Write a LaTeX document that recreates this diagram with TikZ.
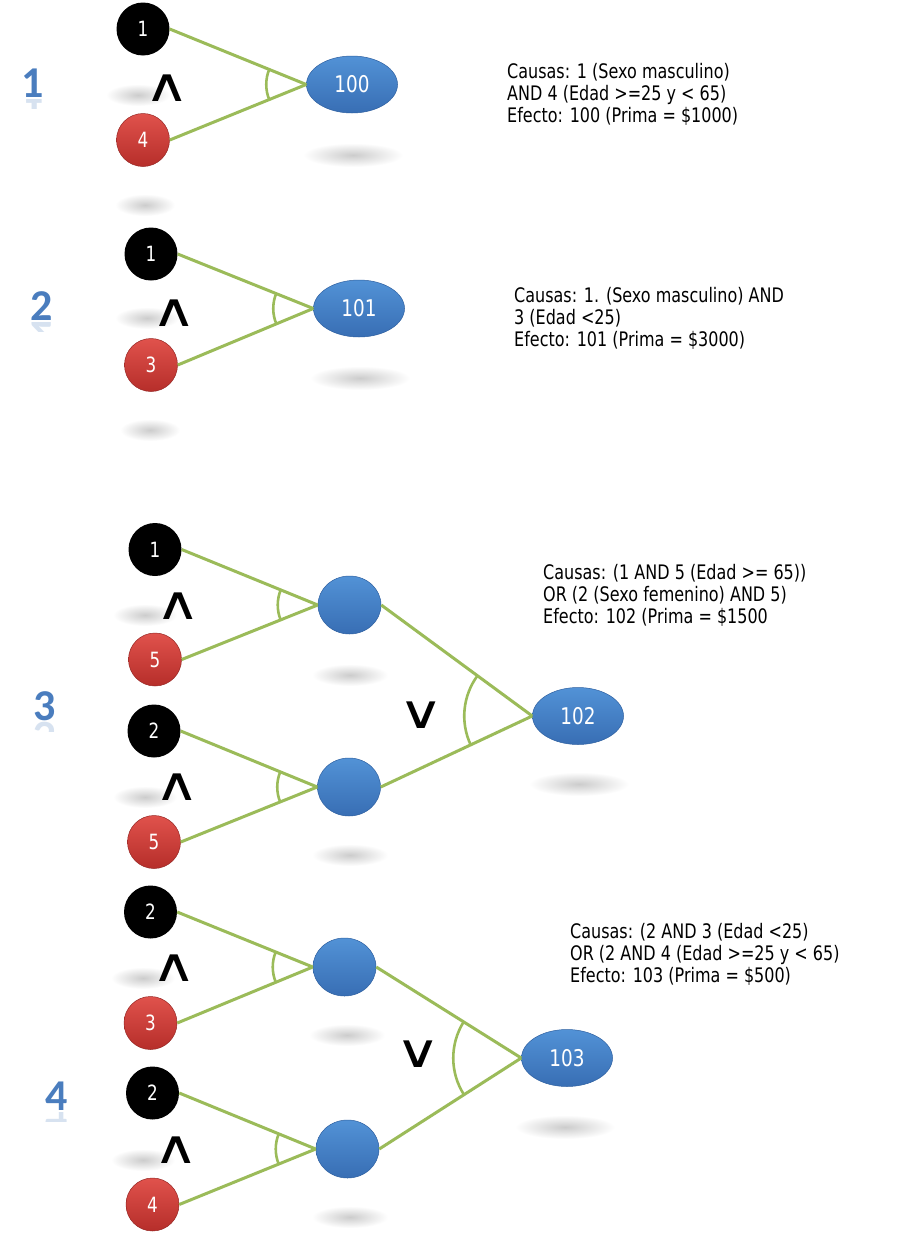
\documentclass[tikz,border=0pt]{standalone}
\usepackage{fontspec}
\setmainfont[FakeStretch=0.8]{DejaVu Sans}
\newfontfamily\bigfont{Carlito}
\newfontfamily\symfont{DejaVu Sans}
\usetikzlibrary{shapes.geometric,calc}
\definecolor{lgreen}{RGB}{155,187,89}
\definecolor{numblue}{RGB}{74,125,190}
\definecolor{redtop}{RGB}{224,82,76}
\definecolor{redbot}{RGB}{182,46,42}
\definecolor{redline}{RGB}{150,38,35}
\definecolor{bluetop}{RGB}{82,146,214}
\definecolor{bluebot}{RGB}{56,110,180}
\definecolor{blueline}{RGB}{45,95,160}
\tikzset{
  blackball/.style={circle, fill=black, minimum size=53pt, inner sep=0pt, text=white,
    font=\fontsize{21}{21}\selectfont},
  redball/.style={circle, top color=redtop, bottom color=redbot, draw=redline, line width=0.5pt,
    minimum size=53pt, inner sep=0pt, text=white, font=\fontsize{21}{21}\selectfont},
  blueball/.style={ellipse, top color=bluetop, bottom color=bluebot, draw=blueline, line width=0.5pt,
    minimum width=63pt, minimum height=58pt, inner sep=0pt},
  effect/.style={ellipse, top color=bluetop, bottom color=bluebot, draw=blueline, line width=0.5pt,
    minimum width=91pt, minimum height=57pt, inner sep=0pt, text=white, font=\fontsize{23}{23}\selectfont},
  conn/.style={draw=lgreen, line width=3pt},
  arcline/.style={draw=lgreen, line width=2.6pt},
  desc/.style={anchor=north west, inner sep=0pt, align=left, font=\fontsize{20}{22}\selectfont},
  gatesym/.style={inner sep=0pt, font=\symfont\fontsize{46}{46}\selectfont},
  bignum/.style={inner sep=0pt, text=numblue, font=\bigfont\bfseries\fontsize{44}{44}\selectfont},
}
\newcommand\wsym[1]{\scalebox{1.35}[1]{#1}}
\newcommand\gatearc[4]{%
  \draw[arcline] let \p1=($(#1.east)-(#3.west)$), \p2=($(#2.east)-(#3.west)$),
    \n1={atan2(\y1,\x1)}, \n2={atan2(\y2,\x2)+360} in
    ($(#3.west)+(\n1:#4)$) arc[start angle=\n1, end angle=\n2, radius=#4];}
\newcommand\softshadow[4]{%
  \shade[inner color=black!20, outer color=white] (#1,-#2) ellipse (#3 and #4);}
\newcommand\bignumber[4]{%
  \node[bignum, anchor=base] (#1) at (#2,-#3) {#4};
  \begin{scope}
    \clip (#2-20,-#3-1) rectangle (#2+20,-#3-11);
    \begin{scope}[shift={(#2,-#3-2)}, yscale=-1]
      \node[bignum, anchor=base, transform shape, opacity=.22] at (0,0) {#4};
    \end{scope}
  \end{scope}}
\begin{document}
\begin{tikzpicture}[x=1pt,y=1pt]
\useasboundingbox[fill=white] (0,0) rectangle (904,-1242);

% ---------- soft shadows ----------
\softshadow{138}{95}{32}{11}
\softshadow{353}{155}{50}{12}
\softshadow{145}{205}{30}{11}
\softshadow{147}{318}{32}{11}
\softshadow{360}{378}{50}{12}
\softshadow{150}{430}{30}{11}
\softshadow{145}{615}{32}{11}
\softshadow{350}{675}{38}{11}
\softshadow{145}{797}{32}{11}
\softshadow{350}{855}{38}{11}
\softshadow{579}{784}{50}{12}
\softshadow{143}{978}{32}{11}
\softshadow{347}{1035}{38}{11}
\softshadow{143}{1160}{32}{11}
\softshadow{350}{1217}{38}{11}
\softshadow{565}{1127}{50}{12}

% ---------- big numbers ----------
\bignumber{num1}{33}{97}{1}
\bignumber{num2}{42}{320}{2}
\bignumber{num3}{45}{720}{3}
\bignumber{num4}{57}{1110}{4}

% ---------- group 1 ----------
\node[blackball] (a1) at (143,-29) {1};
\node[redball] (a4) at (143,-140) {4};
\node[effect] (e100) at (352,-84.5) {100};
\node[gatesym] (g1) at (167,-88) {\wsym{∧}};
\draw[conn] (a1.east) -- (e100.west);
\draw[conn] (a4.east) -- (e100.west);
\gatearc{a1}{a4}{e100}{40pt}
\node[desc] (t1) at (507,-63) {Causas: 1 (Sexo masculino)\\AND 4 (Edad >=25 y < 65)\\Efecto: 100 (Prima = \$1000)};

% ---------- group 2 ----------
\node[blackball] (b1) at (151,-254) {1};
\node[redball] (b3) at (151,-365) {3};
\node[effect] (e101) at (359,-308.5) {101};
\node[gatesym] (g2) at (174,-313) {\wsym{∧}};
\draw[conn] (b1.east) -- (e101.west);
\draw[conn] (b3.east) -- (e101.west);
\gatearc{b1}{b3}{e101}{40pt}
\node[desc] (t2) at (514,-287) {Causas: 1. (Sexo masculino) AND\\3 (Edad <25)\\Efecto: 101 (Prima = \$3000)};

% ---------- group 3 ----------
\node[blackball] (c1) at (155,-549.5) {1};
\node[redball] (c5a) at (155,-659.5) {5};
\node[blueball] (cu) at (349.5,-605) {};
\node[blackball] (c2) at (154,-731) {2};
\node[redball] (c5b) at (154,-842) {5};
\node[blueball] (cl) at (349,-787) {};
\node[effect] (e102) at (578,-716) {102};
\node[gatesym] (g3a) at (178,-606) {\wsym{∧}};
\node[gatesym] (g3b) at (177,-787) {\wsym{∧}};
\node[gatesym] (g3c) at (421,-715) {\wsym{∨}};
\draw[conn] (c1.east) -- (cu.west);
\draw[conn] (c5a.east) -- (cu.west);
\draw[conn] (c2.east) -- (cl.west);
\draw[conn] (c5b.east) -- (cl.west);
\draw[conn] (cu.east) -- (e102.west);
\draw[conn] (cl.east) -- (e102.west);
\gatearc{c1}{c5a}{cu}{40pt}
\gatearc{c2}{c5b}{cl}{40pt}
\gatearc{cu}{cl}{e102}{68pt}
\node[desc] (t3) at (543,-564) {Causas: (1 AND 5 (Edad >= 65))\\OR (2 (Sexo femenino) AND 5)\\Efecto: 102 (Prima = \$1500};

% ---------- group 4 ----------
\node[blackball] (d2a) at (150.5,-912) {2};
\node[redball] (d3) at (150.5,-1023) {3};
\node[blueball] (du) at (344.5,-967) {};
\node[blackball] (d2b) at (152.5,-1093) {2};
\node[redball] (d4) at (152.5,-1204.5) {4};
\node[blueball] (dl) at (347.5,-1149) {};
\node[effect] (e103) at (567,-1058) {103};
\node[gatesym] (g4a) at (174,-968) {\wsym{∧}};
\node[gatesym] (g4b) at (176,-1150) {\wsym{∧}};
\node[gatesym] (g4c) at (418,-1054) {\wsym{∨}};
\draw[conn] (d2a.east) -- (du.west);
\draw[conn] (d3.east) -- (du.west);
\draw[conn] (d2b.east) -- (dl.west);
\draw[conn] (d4.east) -- (dl.west);
\draw[conn] (du.east) -- (e103.west);
\draw[conn] (dl.east) -- (e103.west);
\gatearc{d2a}{d3}{du}{40pt}
\gatearc{d2b}{d4}{dl}{40pt}
\gatearc{du}{dl}{e103}{68pt}
\node[desc] (t4) at (570,-923) {Causas: (2 AND 3 (Edad <25)\\OR (2 AND 4 (Edad >=25 y < 65)\\Efecto: 103 (Prima = \$500)};
\end{tikzpicture}
\end{document}
